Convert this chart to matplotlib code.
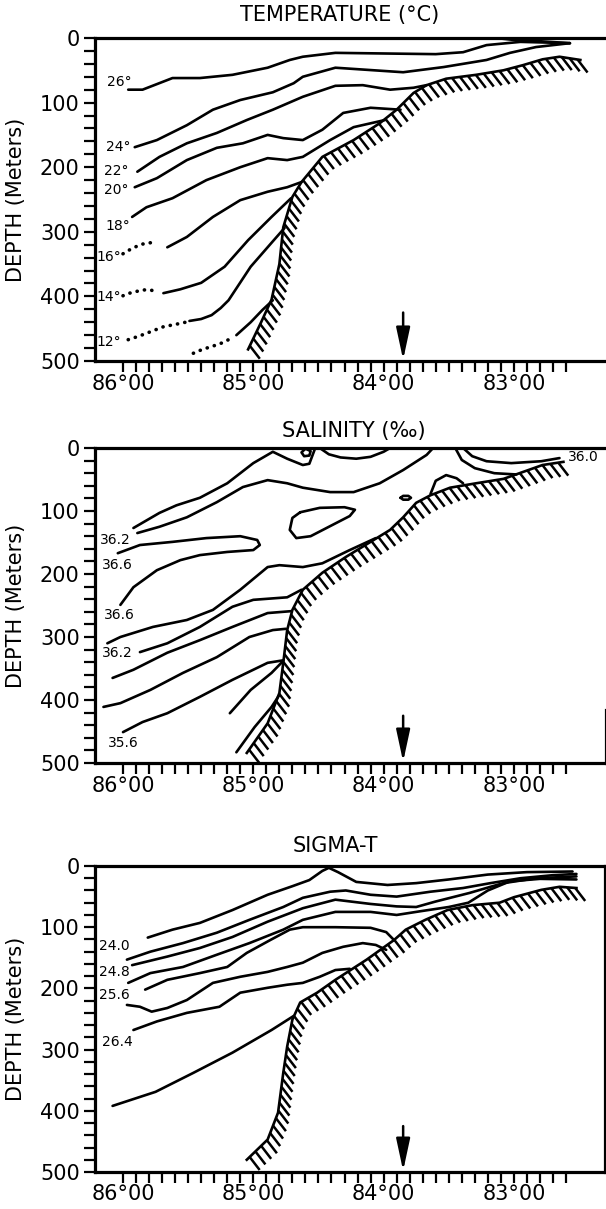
import numpy as np
import matplotlib
matplotlib.use("Agg")
import matplotlib.pyplot as plt
from matplotlib.collections import LineCollection

# ===================== DATA (longitude deg W, depth m) =====================
lon_major = [86, 85, 84, 83]
lon_labels = ["86°00", "85°00", "84°00", "83°00"]
depth_major = [0, 100, 200, 300, 400, 500]
arrow_lon = 83.85
arrow_depths = [425, 498]
panel_titles = ["TEMPERATURE (°C)", "SALINITY (‰)", "SIGMA-T"]

# ---- Temperature panel ----
temp_bottom = [(85.04, 482), (84.94, 440), (84.86, 405), (84.80, 350), (84.77, 293),
               (84.70, 246), (84.63, 223), (84.47, 184), (84.23, 158), (84.03, 132),
               (83.90, 111), (83.77, 85), (83.67, 73), (83.52, 63), (83.29, 57),
               (83.08, 50), (82.93, 42), (82.78, 33), (82.65, 29), (82.49, 34)]
temp_wedge = [(83.14, 0), (83.00, 3), (82.80, 5), (82.57, 8)]
temp_26 = [(85.96, 80), (85.85, 80), (85.62, 62), (85.41, 62), (85.16, 57), (84.89, 46),
           (84.72, 34), (84.62, 29), (84.37, 23), (83.60, 25), (83.39, 22), (83.21, 11),
           (82.95, 6), (82.57, 8)]
temp_24 = [(85.91, 169), (85.74, 158), (85.51, 135), (85.31, 111), (85.10, 96), (84.85, 84),
           (84.69, 70), (84.62, 60), (84.37, 46), (83.85, 53), (83.54, 45), (83.21, 34),
           (83.03, 23), (82.83, 14), (82.57, 8)]
temp_22 = [(85.89, 207), (85.72, 184), (85.51, 163), (85.28, 147), (85.05, 127), (84.85, 111),
           (84.62, 91), (84.37, 74), (84.16, 73), (83.95, 80), (83.77, 77), (83.67, 73)]
temp_20 = [(85.91, 231), (85.74, 217), (85.51, 189), (85.28, 170), (85.08, 163), (84.89, 150),
           (84.77, 155), (84.62, 158), (84.47, 142), (84.31, 116), (84.10, 108), (83.87, 111)]
temp_18 = [(85.93, 277), (85.82, 262), (85.62, 248), (85.36, 220), (85.10, 200), (84.89, 186),
           (84.74, 189), (84.62, 184), (84.41, 158), (84.23, 138), (83.99, 127)]
temp_16_dots = [(86.00, 334), (85.95, 328), (85.89, 322), (85.85, 319), (85.79, 317), (85.74, 320)]
temp_16 = [(85.66, 324), (85.51, 308), (85.31, 277), (85.10, 251), (84.89, 238), (84.74, 231),
           (84.63, 223)]
temp_14_dots = [(86.00, 399), (85.95, 395), (85.89, 392), (85.84, 390), (85.79, 390), (85.74, 393)]
temp_14 = [(85.69, 395), (85.56, 389), (85.40, 379), (85.22, 354), (85.04, 313), (84.86, 277),
           (84.71, 248)]
temp_12_dots = [(85.96, 467), (85.87, 461), (85.78, 454), (85.69, 447), (85.59, 443), (85.52, 440)]
temp_12 = [(85.49, 438), (85.40, 435), (85.32, 429), (85.25, 418), (85.19, 406), (85.02, 354),
           (84.86, 317), (84.76, 294)]
temp_10_dots = [(85.46, 488), (85.39, 482), (85.31, 477), (85.24, 472), (85.16, 464)]
temp_10 = [(85.13, 460), (85.02, 440), (84.93, 421), (84.85, 406)]
temp_labels = ["26°", "24°", "22°", "20°", "18°", "16°", "14°", "12°"]
temp_label_pos = [(86.03, 68), (86.04, 169), (86.05, 206), (86.05, 235), (86.04, 291),
                  (86.11, 339), (86.11, 401), (86.11, 470)]

# ---- Salinity panel ----
sal_bottom = [(85.05, 484), (84.89, 437), (84.80, 389), (84.77, 341), (84.74, 289),
              (84.70, 257), (84.62, 225), (84.47, 198), (84.29, 173), (84.10, 149),
              (83.95, 130), (83.85, 110), (83.75, 87), (83.64, 75), (83.49, 63),
              (83.29, 56), (83.08, 49), (82.93, 38), (82.78, 27), (82.62, 22)]
sal_a = [(85.92, 127), (85.72, 103), (85.59, 91), (85.41, 79), (85.20, 56), (85.00, 24),
         (84.85, 6), (84.74, 17), (84.62, 27), (84.57, 25), (84.53, 3)]
sal_loop_small = [(84.60, 1), (84.63, 7), (84.61, 13), (84.57, 12), (84.56, 5), (84.60, 1)]
sal_u = [(84.49, 0), (84.42, 10), (84.33, 15), (84.21, 17), (84.10, 14), (84.00, 6), (83.95, 0)]
sal_b = [(85.89, 135), (85.72, 125), (85.51, 110), (85.28, 86), (85.08, 62), (84.89, 51),
         (84.74, 56), (84.62, 63), (84.41, 70), (84.23, 70), (84.03, 56), (83.85, 35),
         (83.67, 11), (83.62, 0)]
sal_36_0 = [(83.39, 0), (83.32, 13), (83.21, 21), (83.02, 24), (82.79, 21), (82.65, 16)]
sal_c = [(83.45, 0), (83.40, 19), (83.30, 32), (83.15, 40), (82.98, 42)]
sal_bump = [(83.64, 73), (83.60, 52), (83.52, 43), (83.44, 48), (83.39, 56)]
sal_dot = [(83.87, 79), (83.85, 76), (83.81, 76), (83.79, 79), (83.81, 82), (83.85, 82), (83.87, 79)]
sal_tongue = [(86.04, 167), (85.87, 154), (85.62, 149), (85.36, 143), (85.10, 140), (84.97, 146),
              (84.95, 154), (85.00, 162), (85.20, 165), (85.41, 170), (85.56, 178), (85.74, 194),
              (85.92, 221), (86.02, 249)]
sal_ellipse = [(84.64, 102), (84.49, 95), (84.30, 94), (84.22, 98), (84.26, 108), (84.41, 124),
               (84.56, 140), (84.67, 143), (84.72, 130), (84.70, 111), (84.64, 102)]
sal_d = [(86.12, 310), (86.02, 300), (85.77, 284), (85.51, 273), (85.31, 257), (85.10, 225),
         (84.89, 189), (84.80, 186), (84.62, 189), (84.47, 183), (84.26, 162), (84.06, 143)]
sal_e = [(85.87, 324), (85.66, 310), (85.41, 284), (85.16, 252), (85.00, 241), (84.74, 237),
         (84.63, 225)]
sal_f = [(86.08, 365), (85.92, 352), (85.66, 325), (85.41, 305), (85.16, 284), (84.89, 262),
         (84.71, 259)]
sal_g = [(86.15, 411), (86.02, 405), (85.79, 384), (85.54, 357), (85.28, 332), (85.03, 300),
         (84.85, 289), (84.75, 287)]
sal_h = [(86.00, 451), (85.85, 435), (85.66, 421), (85.41, 395), (85.16, 368), (84.89, 341),
         (84.77, 337)]
sal_i = [(85.18, 421), (85.02, 384), (84.86, 357), (84.78, 340)]
sal_j = [(85.13, 483), (84.99, 443), (84.86, 411), (84.80, 392)]
sal_labels = ["36.2", "36.6", "36.6", "36.2", "35.6", "36.0"]
sal_label_pos = [(86.06, 146), (86.04, 186), (86.03, 265), (86.04, 325), (86.00, 468), (82.47, 14)]

# ---- Sigma-t panel ----
sig_bottom = [(85.05, 480), (84.89, 447), (84.81, 403), (84.77, 338), (84.74, 295), (84.70, 251),
              (84.64, 223), (84.51, 207), (84.37, 186), (84.13, 153), (83.92, 121), (83.83, 104),
              (83.68, 88), (83.51, 72), (83.32, 64), (83.11, 60), (83.00, 51), (82.79, 39),
              (82.65, 34), (82.52, 36)]
sig_1 = [(85.81, 117), (85.62, 104), (85.41, 93), (85.16, 72), (84.89, 47), (84.70, 33),
         (84.57, 23), (84.47, 8), (84.42, 3), (84.35, 10), (84.21, 26), (83.97, 31),
         (83.75, 28), (83.50, 22), (83.20, 14), (82.90, 10), (82.55, 9)]
sig_2 = [(85.97, 153), (85.79, 140), (85.54, 126), (85.28, 109), (85.03, 88), (84.77, 67),
         (84.62, 52), (84.41, 42), (84.29, 40), (84.10, 47), (83.90, 50), (83.64, 42),
         (83.39, 36), (83.18, 28), (82.95, 20), (82.70, 15), (82.52, 13)]
sig_3 = [(85.93, 162), (85.66, 148), (85.41, 134), (85.16, 116), (84.89, 91), (84.62, 69),
         (84.37, 55), (84.10, 62), (83.90, 66), (83.75, 67), (83.60, 58), (83.34, 44),
         (83.18, 34), (83.08, 28), (82.83, 20), (82.52, 17)]
sig_4 = [(85.96, 191), (85.79, 175), (85.54, 165), (85.28, 145), (85.03, 126), (84.77, 104),
         (84.62, 88), (84.37, 75), (84.10, 75), (83.90, 80), (83.72, 74), (83.50, 67),
         (83.35, 60), (83.20, 40), (83.03, 25), (82.80, 21), (82.52, 22)]
sig_5 = [(85.83, 202), (85.66, 186), (85.41, 175), (85.20, 165), (85.05, 142), (84.87, 121),
         (84.72, 104), (84.62, 100), (84.37, 100), (84.10, 101), (83.98, 108), (83.92, 121)]
sig_6 = [(85.97, 227), (85.87, 230), (85.78, 238), (85.66, 232), (85.51, 219), (85.31, 191),
         (85.10, 181), (84.89, 173), (84.74, 165), (84.62, 158), (84.47, 142), (84.31, 132),
         (84.16, 126), (84.06, 129), (83.98, 137)]
sig_7 = [(85.92, 268), (85.74, 254), (85.51, 240), (85.26, 230), (85.10, 207), (84.89, 199),
         (84.74, 194), (84.62, 191), (84.49, 181), (84.37, 170), (84.26, 168)]
sig_8 = [(86.08, 392), (85.75, 369), (85.46, 338), (85.16, 305), (84.86, 268), (84.69, 245)]
sig_labels = ["24.0", "24.8", "25.6", "26.4"]
sig_label_pos = [(86.07, 130), (86.07, 173), (86.07, 210), (86.04, 287)]

# ===================== LAYOUT =====================
W, H, DPI = 606, 1209, 100
PX_PER_DEG = 130.3
PX_86 = 123.0
LEFT_PX = 95.0
plt.rcParams["font.family"] = ["DejaVu Sans"]

fig = plt.figure(figsize=(W / DPI, H / DPI), dpi=DPI)
fig.patch.set_facecolor("white")

LW_LINE = 1.9
LW_SPINE = 2.3


def px_to_lon(px):
    return 86.0 - (px - PX_86) / PX_PER_DEG


def make_ax(top_px, bot_px, right_px, right_spine):
    ax = fig.add_axes([LEFT_PX / W, 1 - bot_px / H, (right_px - LEFT_PX) / W, (bot_px - top_px) / H])
    ax.set_xlim(px_to_lon(LEFT_PX), px_to_lon(right_px))
    ax.set_ylim(500, 0)
    ax.set_facecolor("none")
    for s in ax.spines.values():
        s.set_linewidth(LW_SPINE)
    ax.spines["right"].set_visible(right_spine)
    ax.set_xticks(lon_major)
    ax.set_xticklabels(lon_labels)
    ax.set_xticks([round(86 - 0.1 * i, 1) for i in range(35) if i % 10 != 0], minor=True)
    ax.set_yticks(depth_major)
    ax.set_yticklabels([str(d) for d in depth_major])
    ax.set_yticks([d for d in range(20, 500, 20) if d % 100 != 0], minor=True)
    ax.tick_params(which="both", direction="out", length=8, width=1.6, top=False, right=False)
    ax.tick_params(axis="x", labelsize=15, pad=1)
    ax.tick_params(axis="y", labelsize=15, pad=3)
    return ax


def draw(ax, pts, dotted=False):
    a = np.asarray(pts, float)
    if dotted:
        ax.plot(a[:, 0], a[:, 1], color="k", lw=2.6, linestyle=(0, (0.05, 2.0)),
                dash_capstyle="round")
    else:
        ax.plot(a[:, 0], a[:, 1], color="k", lw=LW_LINE, solid_capstyle="round",
                solid_joinstyle="round")


def hatched_bottom(ax, pts, spacing=8.0, dx=10.0, dy=-13.0):
    a = np.asarray(pts, float)
    ax.plot(a[:, 0], a[:, 1], color="k", lw=LW_LINE, solid_joinstyle="round")
    disp = ax.transData.transform(a)
    seg = np.diff(disp, axis=0)
    s = np.concatenate([[0], np.cumsum(np.hypot(seg[:, 0], seg[:, 1]))])
    samp = np.arange(spacing / 2, s[-1], spacing)
    xs = np.interp(samp, s, disp[:, 0])
    ys = np.interp(samp, s, disp[:, 1])
    inv = ax.transData.inverted()
    segs = []
    for xi, yi in zip(xs, ys):
        p0 = inv.transform((xi, yi))
        p1 = inv.transform((xi + dx, yi + dy))
        segs.append([p0, p1])
    ax.add_collection(LineCollection(segs, colors="k", linewidths=1.8, capstyle="butt"))


def arrow(ax):
    ax.annotate("", xy=(arrow_lon, arrow_depths[1]), xytext=(arrow_lon, arrow_depths[0]),
                arrowprops=dict(arrowstyle="-|>,head_length=1.3,head_width=0.28",
                                color="k", lw=1.8, mutation_scale=15, shrinkA=0, shrinkB=0))


def labels(ax, texts, pos, size=10):
    for t, (x, y) in zip(texts, pos):
        ax.text(x, y, t, ha="center", va="center", fontsize=size)


panels = [(38, 361, 606, False), (448, 763, 606, False), (866, 1172, 605, True)]
title_px = [(340, 15), (354, 431), (335, 846)]

# ---- Temperature ----
ax1 = make_ax(*panels[0])
hatched_bottom(ax1, temp_bottom)
for ln in [temp_wedge, temp_26, temp_24, temp_22, temp_20, temp_18, temp_16, temp_14, temp_12, temp_10]:
    draw(ax1, ln)
for ln in [temp_16_dots, temp_14_dots, temp_12_dots, temp_10_dots]:
    draw(ax1, ln, dotted=True)
labels(ax1, temp_labels, temp_label_pos)
arrow(ax1)

# ---- Salinity ----
ax2 = make_ax(*panels[1])
hatched_bottom(ax2, sal_bottom)
for ln in [sal_a, sal_loop_small, sal_u, sal_b, sal_36_0, sal_c, sal_bump, sal_dot, sal_tongue,
           sal_ellipse, sal_d, sal_e, sal_f, sal_g, sal_h, sal_i, sal_j]:
    draw(ax2, ln)
labels(ax2, sal_labels, sal_label_pos)
arrow(ax2)
xr = ax2.get_xlim()[1]
ax2.plot([xr, xr], [416, 500], color="k", lw=LW_SPINE, clip_on=False)

# ---- Sigma-t ----
ax3 = make_ax(*panels[2])
hatched_bottom(ax3, sig_bottom)
for ln in [sig_1, sig_2, sig_3, sig_4, sig_5, sig_6, sig_7, sig_8]:
    draw(ax3, ln)
labels(ax3, sig_labels, sig_label_pos)
arrow(ax3)

axes = [ax1, ax2, ax3]
for i, (ax, (tx, ty), (top, bot, _, _)) in enumerate(zip(axes, title_px, panels)):
    fig.text(tx / W, 1 - ty / H, panel_titles[i], ha="center", va="center", fontsize=15)
    fig.text(16 / W, 1 - ((top + bot) / 2) / H, "DEPTH (Meters)", rotation=90,
             ha="center", va="center", fontsize=15)

fig.savefig("out.png", dpi=DPI, facecolor="white")
